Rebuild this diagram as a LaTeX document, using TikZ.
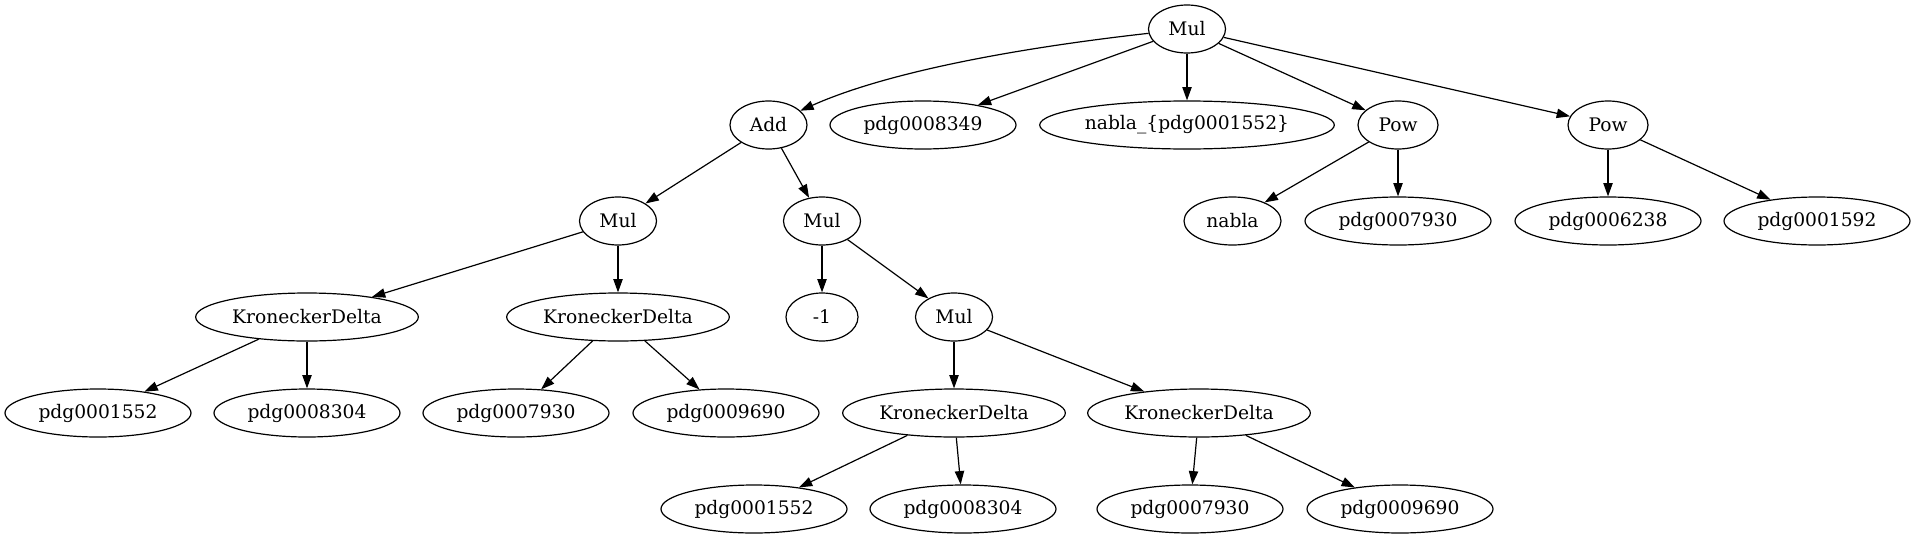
\documentclass[tikz,border=0pt]{standalone}
\usepackage{fontspec}
\setmainfont{DejaVu Serif}
\usetikzlibrary{shapes.geometric,arrows.meta}
\begin{document}
\begin{tikzpicture}[x=0.75pt,y=-0.75pt,
  nd/.style={draw,ellipse,line width=0.9pt,inner sep=0pt,minimum height=36pt,
    font=\fontsize{14}{16.8}\selectfont},
  sm/.style={nd,minimum width=57.75pt},
  pw/.style={nd,minimum width=60pt},
  one/.style={nd,minimum width=54pt},
  nb/.style={nd,minimum width=72.75pt},
  pd/.style={nd,minimum width=139.5pt},
  kd/.style={nd,minimum width=167pt},
  nbl/.style={nd,minimum width=221pt},
  edge/.style={line width=0.9pt,-{Triangle[length=10pt,width=7pt]}}]
\useasboundingbox (0,0) rectangle (1915,539);
% row 1
\node[sm] (root) at (1187,29) {Mul};
% row 2
\node[sm] (add) at (768.5,125) {Add};
\node[pd] (p8349) at (923,125) {pdg0008349};
\node[nbl] (nab) at (1187,125) {nabla\_\{pdg0001552\}};
\node[pw] (pow1) at (1398,125) {Pow};
\node[pw] (pow2) at (1608,125) {Pow};
% row 3
\node[sm] (mulL) at (618,221) {Mul};
\node[sm] (mulM) at (822,221) {Mul};
\node[nb] (nabla) at (1232.5,221) {nabla};
\node[pd] (p7930a) at (1398,221) {pdg0007930};
\node[pd] (p6238) at (1608,221) {pdg0006238};
\node[pd] (p1592) at (1817,221) {pdg0001592};
% row 4
\node[kd] (kd1) at (307,317) {KroneckerDelta};
\node[kd] (kd2) at (618,317) {KroneckerDelta};
\node[one] (m1) at (822,317) {-1};
\node[sm] (mul3) at (954,317) {Mul};
% row 5
\node[pd] (p1552a) at (98,413) {pdg0001552};
\node[pd] (p8304a) at (307,413) {pdg0008304};
\node[pd] (p7930b) at (516,413) {pdg0007930};
\node[pd] (p9690a) at (726,413) {pdg0009690};
\node[kd] (kd3) at (954,413) {KroneckerDelta};
\node[kd] (kd4) at (1199,413) {KroneckerDelta};
% row 6
\node[pd] (p1552b) at (754,509) {pdg0001552};
\node[pd] (p8304b) at (963,509) {pdg0008304};
\node[pd] (p7930c) at (1190,509) {pdg0007930};
\node[pd] (p9690b) at (1400,509) {pdg0009690};
% edges
\draw[edge] (root) .. controls (1000,50) and (880,75) .. (add);
\draw[edge] (root) -- (p8349);
\draw[edge] (root) -- (nab);
\draw[edge] (root) -- (pow1);
\draw[edge] (root) -- (pow2);
\draw[edge] (add) -- (mulL);
\draw[edge] (add) -- (mulM);
\draw[edge] (pow1) -- (nabla);
\draw[edge] (pow1) -- (p7930a);
\draw[edge] (pow2) -- (p6238);
\draw[edge] (pow2) -- (p1592);
\draw[edge] (mulL) -- (kd1);
\draw[edge] (mulL) -- (kd2);
\draw[edge] (mulM) -- (m1);
\draw[edge] (mulM) -- (mul3);
\draw[edge] (kd1) -- (p1552a);
\draw[edge] (kd1) -- (p8304a);
\draw[edge] (kd2) -- (p7930b);
\draw[edge] (kd2) -- (p9690a);
\draw[edge] (mul3) -- (kd3);
\draw[edge] (mul3) -- (kd4);
\draw[edge] (kd3) -- (p1552b);
\draw[edge] (kd3) -- (p8304b);
\draw[edge] (kd4) -- (p7930c);
\draw[edge] (kd4) -- (p9690b);
\end{tikzpicture}
\end{document}
